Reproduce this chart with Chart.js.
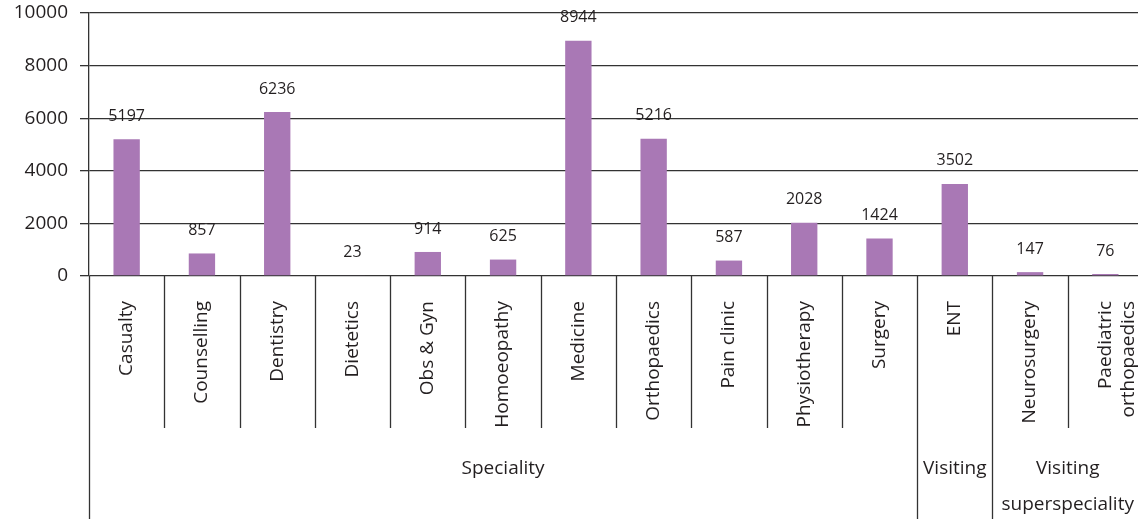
<!DOCTYPE html>
<html>
<head>
<meta charset="utf-8">
<script src="https://cdn.jsdelivr.net/npm/chart.js@4"></script>
<style>
    html, body { margin: 0; padding: 0; background: #fff; overflow: hidden; }
    #wrap { width: 1143px; height: 519px; }
</style>
</head>
<body>
<div id="wrap"><canvas id="clinicChart"></canvas></div>
<script>
// Data
const categories = ['Casualty', 'Counselling', 'Dentistry', 'Dietetics', 'Obs & Gyn', 'Homoeopathy', 'Medicine',
    'Orthopaedics', 'Pain clinic', 'Physiotherapy', 'Surgery', 'ENT', 'Neurosurgery', ['Paediatric', 'orthopaedics']];
const visits = [5197, 857, 6236, 23, 914, 625, 8944, 5216, 587, 2028, 1424, 3502, 147, 76];
const groupNames = [['Speciality'], ['Visiting'], ['Visiting', 'superspeciality']];
const groupSizes = [11, 1, 2];
const yMin = 0, yMax = 10000, yStep = 2000;

const FONT = "'Open Sans', sans-serif";
const INK = '#231f20';

// value labels above the bars
const valueLabels = {
    id: 'valueLabels',
    afterDatasetsDraw(chart) {
        const ctx = chart.ctx;
        const meta = chart.getDatasetMeta(0);
        ctx.save();
        ctx.font = `16px ${FONT}`;
        ctx.fillStyle = INK;
        ctx.textAlign = 'center';
        ctx.textBaseline = 'middle';
        meta.data.forEach((bar, i) => {
            ctx.fillText(String(visits[i]), bar.x, bar.y - 23);
        });
        ctx.restore();
    }
};

// category separators and group labels under the axis
const groupAxis = {
    id: 'groupAxis',
    afterDraw(chart) {
        const ctx = chart.ctx;
        const x = chart.scales.x;
        const area = chart.chartArea;
        const bottom = chart.height;
        const tickBottom = area.bottom + 152;
        const edge = (i) => {
            if (i <= 0) return x.getPixelForValue(0) - (x.getPixelForValue(1) - x.getPixelForValue(0)) / 2;
            if (i >= categories.length) {
                const n = categories.length;
                return x.getPixelForValue(n - 1) + (x.getPixelForValue(n - 1) - x.getPixelForValue(n - 2)) / 2;
            }
            return (x.getPixelForValue(i - 1) + x.getPixelForValue(i)) / 2;
        };
        const groupEdges = [0];
        groupSizes.forEach(n => groupEdges.push(groupEdges[groupEdges.length - 1] + n));

        ctx.save();
        ctx.strokeStyle = '#333';
        ctx.lineWidth = 1.3;
        for (let i = 0; i <= categories.length; i++) {
            const px = Math.round(edge(i)) + 0.5;
            ctx.beginPath();
            ctx.moveTo(px, area.bottom);
            ctx.lineTo(px, groupEdges.includes(i) ? bottom : tickBottom);
            ctx.stroke();
        }

        ctx.font = `19px ${FONT}`;
        ctx.fillStyle = INK;
        ctx.textAlign = 'center';
        ctx.textBaseline = 'middle';
        groupNames.forEach((lines, g) => {
            const cx = (edge(groupEdges[g]) + edge(groupEdges[g + 1])) / 2;
            lines.forEach((t, k) => ctx.fillText(t, cx, 469 + k * 36));
        });
        ctx.restore();
    }
};

new Chart(document.getElementById('clinicChart'), {
    type: 'bar',
    data: {
        labels: categories,
        datasets: [{
            data: visits,
            backgroundColor: '#a978b5',
            borderWidth: 0,
            barPercentage: 0.35,
            categoryPercentage: 1
        }]
    },
    options: {
        responsive: true,
        maintainAspectRatio: false,
        animation: false,
        layout: { padding: { top: 13, right: 0, left: 0, bottom: 0 } },
        plugins: { legend: { display: false }, tooltip: { enabled: false } },
        scales: {
            x: {
                grid: { display: false },
                border: { display: false },
                ticks: {
                    minRotation: 90,
                    maxRotation: 90,
                    autoSkip: false,
                    padding: 17,
                    color: INK,
                    font: { family: FONT, size: 19 }
                },
                afterFit: (scale) => {
                    scale.height = 243;
                    scale.paddingLeft = 0;
                    scale.paddingRight = 0;
                }
            },
            y: {
                min: yMin,
                max: yMax,
                grid: { color: '#333', lineWidth: 1.3, tickLength: 9 },
                border: { color: '#333', width: 1.3 },
                ticks: {
                    stepSize: yStep,
                    padding: 12,
                    color: INK,
                    font: { family: FONT, size: 19 },
                    callback: (v) => String(v)
                },
                afterFit: (scale) => {
                    scale.width = 89;
                    scale.paddingTop = 0;
                    scale.paddingBottom = 0;
                }
            }
        }
    },
    plugins: [valueLabels, groupAxis]
});
</script>
</body>
</html>
